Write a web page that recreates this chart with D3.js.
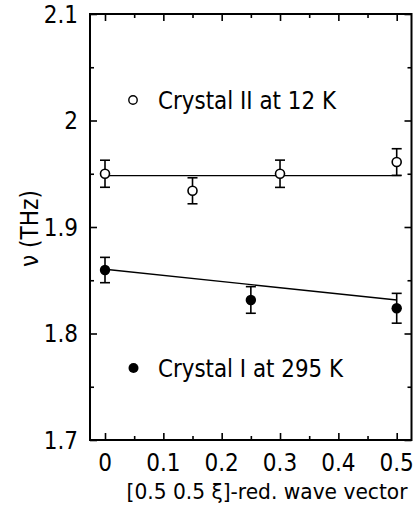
<!DOCTYPE html>
<html><head><meta charset="utf-8">
<script src="https://cdn.jsdelivr.net/npm/d3@7"></script>
<style>
html,body{margin:0;padding:0;background:#fff;}
text{font-family:"Liberation Sans Narrow","Arial Narrow","DejaVu Sans Condensed",sans-serif;fill:#000;}
</style></head>
<body><svg id="c" width="417" height="510"></svg>
<script>
// Data
const xTicks = [0, 0.1, 0.2, 0.3, 0.4, 0.5];
const xTickLabels = ["0", "0.1", "0.2", "0.3", "0.4", "0.5"];
const yTicks = [1.7, 1.8, 1.9, 2.0, 2.1];
const yTickLabels = ["1.7", "1.8", "1.9", "2", "2.1"];
// Crystal II at 12 K (open circles)
const c2X = [0, 0.15, 0.3, 0.5];
const c2Y = [1.950, 1.934, 1.950, 1.961];
const c2Err = [0.0127, 0.0122, 0.0128, 0.0125];
const c2FitX = [0, 0.508];
const c2FitY = [1.9482, 1.9482];
// Crystal I at 295 K (filled circles)
const c1X = [0, 0.25, 0.5];
const c1Y = [1.8596, 1.8315, 1.8237];
const c1Err = [0.0119, 0.0125, 0.014];
const c1FitX = [0, 0.5];
const c1FitY = [1.8603, 1.8315];
const legendLabels = ["Crystal II at 12 K", "Crystal I at 295 K"];
const xTitle = "[0.5 0.5 \u03BE]-red. wave vector";
const yTitle = "\u03BD (THz)";

const L = 90, R = 411.5, T = 14, B = 440;
const x = d3.scaleLinear().domain([0, 0.5]).range([105, 396.7]);
const y = d3.scaleLinear().domain([1.7, 2.1]).range([B, T]);
const svg = d3.select("#c");

const xMinor = d3.range(0.05, 0.5, 0.1);
const yMinor = d3.range(1.75, 2.1, 0.1);

// ticks (inward)
function ticks(axisFn, scale, vals, size, tr) {
  const g = svg.append("g").attr("transform", tr)
    .call(axisFn(scale).tickValues(vals).tickSize(size).tickFormat(""));
  g.select(".domain").remove();
  g.selectAll("line").attr("stroke", "#000").attr("stroke-width", 1.6);
  return g;
}
ticks(d3.axisTop, x, xTicks, 7, `translate(0,${B})`);
ticks(d3.axisTop, x, xMinor, 4, `translate(0,${B})`);
ticks(d3.axisBottom, x, xTicks, 7, `translate(0,${T})`);
ticks(d3.axisBottom, x, xMinor, 4, `translate(0,${T})`);
ticks(d3.axisRight, y, yTicks, 7, `translate(${L},0)`);
ticks(d3.axisRight, y, yMinor, 4, `translate(${L},0)`);
ticks(d3.axisLeft, y, yTicks, 7, `translate(${R},0)`);
ticks(d3.axisLeft, y, yMinor, 4, `translate(${R},0)`);

// frame
svg.append("rect").attr("x", L).attr("y", T).attr("width", R - L).attr("height", B - T)
  .attr("fill", "none").attr("stroke", "#000").attr("stroke-width", 2);

// tick labels
svg.append("g").selectAll("text").data(xTicks).join("text")
  .attr("x", d => x(d)).attr("y", 471).attr("text-anchor", "middle")
  .attr("font-size", 24).text((d, i) => xTickLabels[i]);
svg.append("g").selectAll("text").data(yTicks).join("text")
  .attr("x", 78).attr("y", d => y(d)).attr("dy", "0.36em").attr("text-anchor", "end")
  .attr("font-size", 24).text((d, i) => yTickLabels[i]);

// titles
svg.append("text").attr("x", 267).attr("y", 499).attr("text-anchor", "middle")
  .attr("font-size", 22).attr("textLength", 281).attr("lengthAdjust", "spacingAndGlyphs").text(xTitle);
svg.append("text").attr("transform", "translate(37.5,228.5) rotate(-90)").attr("text-anchor", "middle")
  .attr("font-size", 24).attr("textLength", 77).attr("lengthAdjust", "spacingAndGlyphs").text(yTitle);

// fit lines
const line = d3.line().x(d => x(d[0])).y(d => y(d[1]));
svg.append("path").attr("d", line(c2FitX.map((v, i) => [v, c2FitY[i]])))
  .attr("fill", "none").attr("stroke", "#000").attr("stroke-width", 1.4);
svg.append("path").attr("d", line(c1FitX.map((v, i) => [v, c1FitY[i]])))
  .attr("fill", "none").attr("stroke", "#000").attr("stroke-width", 1.4);

// error bars
function errBars(xs, ys, es) {
  const g = svg.append("g").attr("stroke", "#000").attr("stroke-width", 1.6).attr("fill", "none");
  xs.forEach((xv, i) => {
    const cx = x(xv), y0 = y(ys[i] - es[i]), y1 = y(ys[i] + es[i]);
    g.append("line").attr("x1", cx).attr("x2", cx).attr("y1", y0).attr("y2", y1);
    g.append("line").attr("x1", cx - 5).attr("x2", cx + 5).attr("y1", y0).attr("y2", y0);
    g.append("line").attr("x1", cx - 5).attr("x2", cx + 5).attr("y1", y1).attr("y2", y1);
  });
}
errBars(c2X, c2Y, c2Err);
errBars(c1X, c1Y, c1Err);

svg.append("g").selectAll("circle").data(c2X).join("circle")
  .attr("cx", d => x(d)).attr("cy", (d, i) => y(c2Y[i])).attr("r", 4.5)
  .attr("fill", "#fff").attr("stroke", "#000").attr("stroke-width", 1.6);
svg.append("g").selectAll("circle").data(c1X).join("circle")
  .attr("cx", d => x(d)).attr("cy", (d, i) => y(c1Y[i])).attr("r", 5.2)
  .attr("fill", "#000");

// legends
svg.append("circle").attr("cx", 133).attr("cy", 100).attr("r", 4.2)
  .attr("fill", "#fff").attr("stroke", "#000").attr("stroke-width", 1.4);
svg.append("text").attr("x", 158).attr("y", 108.5).attr("font-size", 24)
  .attr("textLength", 178).attr("lengthAdjust", "spacingAndGlyphs").text(legendLabels[0]);
svg.append("circle").attr("cx", 133.5).attr("cy", 368).attr("r", 5)
  .attr("fill", "#000");
svg.append("text").attr("x", 158).attr("y", 376.5).attr("font-size", 24)
  .attr("textLength", 185).attr("lengthAdjust", "spacingAndGlyphs").text(legendLabels[1]);
</script></body></html>
